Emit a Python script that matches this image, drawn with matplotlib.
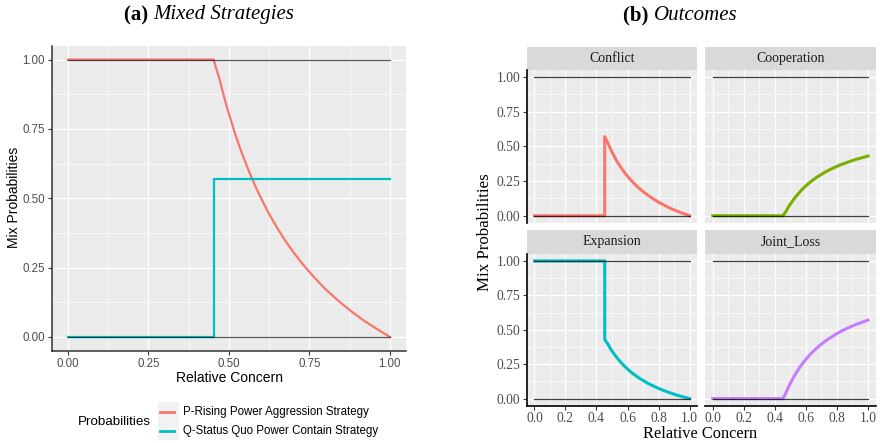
import matplotlib
matplotlib.use("Agg")
import matplotlib.pyplot as plt

# values
x_pre = [0.0, 0.453]
x_post = [0.453, 0.46, 0.47, 0.48, 0.49, 0.50, 0.52, 0.54, 0.56, 0.58, 0.60,
          0.625, 0.65, 0.675, 0.70, 0.73, 0.76, 0.80, 0.84, 0.88, 0.92, 0.96, 1.0]

# panel (a): mixed strategies
p_pre = [1.0, 1.0]
p_post = [1.0, 0.97, 0.934, 0.888, 0.845, 0.805, 0.73, 0.664, 0.604, 0.549, 0.50,
          0.443, 0.393, 0.347, 0.306, 0.261, 0.221, 0.172, 0.13, 0.092, 0.058, 0.028, 0.0]
q_x = [0.0, 0.453, 0.453, 1.0]
q_y = [0.0, 0.0, 0.57, 0.57]

# panel (b): outcomes
conflict_pre = [0.0, 0.0]
conflict_post = [0.57, 0.553, 0.532, 0.506, 0.482, 0.459, 0.416, 0.378, 0.344, 0.313, 0.285,
                 0.253, 0.224, 0.198, 0.174, 0.149, 0.126, 0.098, 0.074, 0.052, 0.033, 0.016, 0.0]
cooperation_pre = [0.0, 0.0]
cooperation_post = [0.0, 0.013, 0.028, 0.048, 0.067, 0.084, 0.116, 0.144, 0.17, 0.194, 0.215,
                    0.24, 0.261, 0.281, 0.298, 0.318, 0.335, 0.356, 0.374, 0.39, 0.405, 0.418, 0.43]
expansion_pre = [1.0, 1.0]
expansion_post = [0.43, 0.417, 0.402, 0.382, 0.363, 0.346, 0.314, 0.286, 0.26, 0.236, 0.215,
                  0.19, 0.169, 0.149, 0.132, 0.112, 0.095, 0.074, 0.056, 0.04, 0.025, 0.012, 0.0]
joint_pre = [0.0, 0.0]
joint_post = [0.0, 0.017, 0.038, 0.064, 0.088, 0.111, 0.154, 0.192, 0.226, 0.257, 0.285,
              0.317, 0.346, 0.372, 0.396, 0.421, 0.444, 0.472, 0.496, 0.518, 0.537, 0.554, 0.57]

facet_names = ["Conflict", "Cooperation", "Expansion", "Joint_Loss"]
facet_colors = ["#F8766D", "#7CAE00", "#00BFC4", "#C77CFF"]
strategy_labels = ["P-Rising Power Aggression Strategy",
                   "Q-Status Quo Power Contain Strategy"]
strategy_colors = ["#F8766D", "#00BFC4"]

W, H = 880, 443
fig = plt.figure(figsize=(W / 100, H / 100), dpi=100)

SANS = "Liberation Sans"
SERIF = "Liberation Serif"
BG = "#EBEBEB"


def box(x0, y0, x1, y1):
    # pixel box (top-left origin) -> figure axes
    return fig.add_axes([x0 / W, 1 - y1 / H, (x1 - x0) / W, (y1 - y0) / H])


def ggplot_grid(ax, xmaj, xmin, ymaj, ymin):
    ax.set_facecolor(BG)
    ax.set_xticks(xmaj)
    ax.set_xticks(xmin, minor=True)
    ax.set_yticks(ymaj)
    ax.set_yticks(ymin, minor=True)
    ax.grid(which="major", color="white", lw=1.0)
    ax.grid(which="minor", color="white", lw=0.5)
    ax.set_axisbelow(True)
    ax.tick_params(which="minor", length=0)
    ax.set_xlim(-0.05, 1.05)
    ax.set_ylim(-0.05, 1.05)
    for s in ["top", "right"]:
        ax.spines[s].set_visible(False)


# ---------------- panel (a) ----------------
ax = box(51.7, 45.7, 406, 350.7)
ggplot_grid(ax, [0, 0.25, 0.5, 0.75, 1.0], [0.125, 0.375, 0.625, 0.875],
            [0, 0.25, 0.5, 0.75, 1.0], [0.125, 0.375, 0.625, 0.875])
ax.plot(x_pre + x_post, p_pre + p_post, color=strategy_colors[0], lw=1.6)
ax.plot(q_x, q_y, color=strategy_colors[1], lw=1.6)
for lvl in [0.0, 1.0]:
    ax.plot([0, 1], [lvl, lvl], color="black", lw=0.9, alpha=0.65)
ax.set_xticklabels(["0.00", "0.25", "0.50", "0.75", "1.00"])
ax.set_yticklabels(["0.00", "0.25", "0.50", "0.75", "1.00"])
ax.tick_params(which="major", length=3, width=0.8, color="#333333",
               labelcolor="#4D4D4D", labelsize=8.3, pad=2)
for lab in ax.get_xticklabels() + ax.get_yticklabels():
    lab.set_family(SANS)
for s in ["left", "bottom"]:
    ax.spines[s].set_color("#333333")
    ax.spines[s].set_linewidth(1.1)

fig.text(14 / W, 1 - 197 / H, "Mix Probabilities", rotation=90, ha="center",
         va="center", family=SANS, fontsize=10)
fig.text(229 / W, 1 - 378 / H, "Relative Concern", ha="center", va="center",
         family=SANS, fontsize=10)

# legend
fig.text(114 / W, 1 - 422 / H, "Probabilities", ha="center", va="center",
         family=SANS, fontsize=9.6)
lax = box(157.7, 401.7, 179, 440)
lax.set_facecolor("#F2F2F2")
lax.set_xlim(0, 1)
lax.set_ylim(0, 1)
lax.set_xticks([])
lax.set_yticks([])
for s in lax.spines.values():
    s.set_visible(False)
for i, (lab, col) in enumerate(zip(strategy_labels, strategy_colors)):
    ypix = [411.7, 430.7][i]
    yy = (440 - ypix) / (440 - 401.7)
    lax.plot([0.12, 0.78], [yy, yy], color=col, lw=2.0)
    fig.text(183.3 / W, 1 - ypix / H, lab, ha="left", va="center",
             family=SANS, fontsize=8.3)


# titles: bold tag + italic text, centred together
def title(cx, bold, ital):
    fig.canvas.draw()
    r = fig.canvas.get_renderer()
    a = fig.text(0, 1 - 15 / H, bold + " ", family=SERIF, fontsize=15,
                 fontweight="bold", va="center")
    b = fig.text(0, 1 - 15 / H, ital, family=SERIF, fontsize=15,
                 style="italic", va="center")
    wa = a.get_window_extent(r).width
    wb = b.get_window_extent(r).width
    x0 = cx - (wa + wb) / 2
    a.set_x(x0 / W)
    b.set_x((x0 + wa) / W)


title(209, "(a)", "Mixed Strategies")
title(680, "(b)", "Outcomes")

# ---------------- panel (b) ----------------
cols = [(526.7, 697.3), (705, 875.7)]
rows = [((46.7, 70), (70, 222.7)), ((230, 254), (254, 405.5))]
pre_series = [conflict_pre, cooperation_pre, expansion_pre, joint_pre]
post_series = [conflict_post, cooperation_post, expansion_post, joint_post]

for k, name in enumerate(facet_names):
    r, c = divmod(k, 2)
    (sy0, sy1), (py0, py1) = rows[r]
    cx0, cx1 = cols[c]
    sax = box(cx0, sy0, cx1, sy1)
    sax.set_facecolor("#D9D9D9")
    sax.set_xticks([])
    sax.set_yticks([])
    for s in sax.spines.values():
        s.set_visible(False)
    sax.text(0.5, 0.5, name, ha="center", va="center", family=SERIF,
             fontsize=10, color="#1A1A1A", transform=sax.transAxes)

    fax = box(cx0, py0, cx1, py1)
    ggplot_grid(fax, [0, 0.2, 0.4, 0.6, 0.8, 1.0], [0.1, 0.3, 0.5, 0.7, 0.9],
                [0, 0.25, 0.5, 0.75, 1.0], [0.125, 0.375, 0.625, 0.875])
    fax.plot(x_pre + x_post, pre_series[k] + post_series[k],
             color=facet_colors[k], lw=2.2)
    for lvl in [0.0, 1.0]:
        fax.plot([0, 1], [lvl, lvl], color="black", lw=0.9, alpha=0.75)
    fax.tick_params(which="major", length=3, width=0.8, color="#333333",
                    labelcolor="#4D4D4D", labelsize=9.8, pad=1.5)
    fax.set_xticklabels(["0.0", "0.2", "0.4", "0.6", "0.8", "1.0"])
    fax.set_yticklabels(["0.00", "0.25", "0.50", "0.75", "1.00"])
    for lab in fax.get_xticklabels() + fax.get_yticklabels():
        lab.set_family(SERIF)
    if c == 1:
        fax.spines["left"].set_visible(False)
        fax.tick_params(axis="y", left=False, labelleft=False)
    if r == 0:
        fax.spines["bottom"].set_visible(False)
        fax.tick_params(axis="x", bottom=False, labelbottom=False)
    for s in ["left", "bottom"]:
        fax.spines[s].set_color("black")
        fax.spines[s].set_linewidth(1.2)

fig.text(485 / W, 1 - 232 / H, "Mix Probabilities", rotation=90, ha="center",
         va="center", family=SERIF, fontsize=12.2)
fig.text(700 / W, 0.5 / H, "Relative Concern", ha="center", va="bottom",
         family=SERIF, fontsize=11.8)

fig.savefig("out.png", dpi=100)
